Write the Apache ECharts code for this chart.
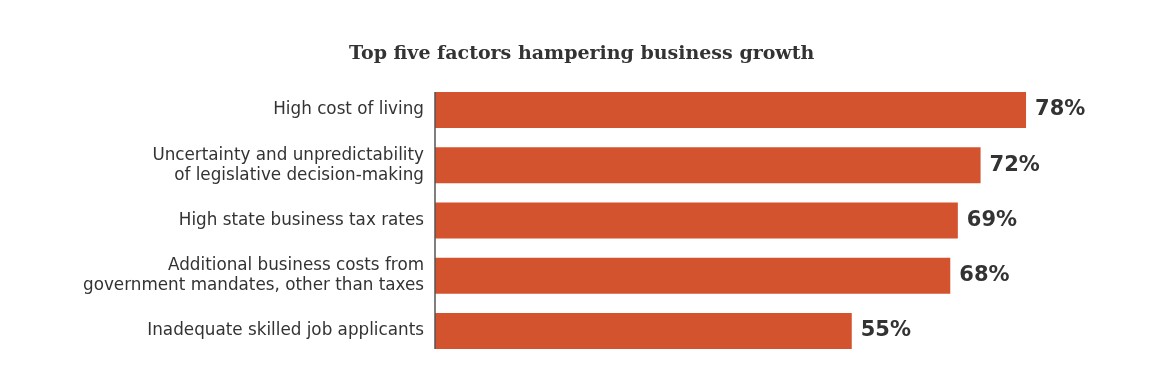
<!DOCTYPE html>
<html><head><meta charset="utf-8">
<script src="https://cdn.jsdelivr.net/npm/echarts@6/dist/echarts.min.js"></script>
<style>html,body{margin:0;padding:0;background:#fff}#c{width:1170px;height:381px}</style>
</head><body><div id="c"></div>
<script>
const categories = [
  "High cost of living",
  "Uncertainty and unpredictability\nof legislative decision-making",
  "High state business tax rates",
  "Additional business costs from\ngovernment mandates, other than taxes",
  "Inadequate skilled job applicants"
];
const values = [78, 72, 69, 68, 55];
const titleText = "Top five factors hampering business growth";

const BAR_W = 36;
const chart = echarts.init(document.getElementById('c'));
chart.setOption({
  animation: false,
  backgroundColor: '#fff',
  title: {
    text: titleText, left: 344, top: 40,
    textStyle: { fontFamily: 'DejaVu Serif', fontWeight: 'bold', fontSize: 19, color: '#333' }
  },
  grid: { left: 435, top: 82.4, width: 606.2, height: 276.25 },
  xAxis: { type: 'value', min: 0, max: 80, show: false },
  yAxis: {
    type: 'category', data: categories, inverse: true,
    axisLine: { show: false }, axisTick: { show: false },
    axisLabel: { margin: 11, fontFamily: 'DejaVu Sans', fontSize: 16.8, color: '#333', lineHeight: 20, align: 'right' }
  },
  series: [{
    type: 'bar', data: values, barWidth: BAR_W,
    itemStyle: { color: '#D4532F' },
    label: {
      show: true, position: 'right', distance: 9, formatter: '{c}%',
      fontFamily: 'DejaVu Sans', fontWeight: 'bold', fontSize: 21, color: '#333'
    }
  }, {
    type: 'custom', data: [[0, 0]], z: 5,
    renderItem: function (params, api) {
      const p1 = api.coord([0, 0]);
      const p2 = api.coord([0, categories.length - 1]);
      return { type: 'line', shape: { x1: p1[0], y1: p1[1] - BAR_W / 2, x2: p2[0], y2: p2[1] + BAR_W / 2 },
        style: { stroke: '#555', lineWidth: 1.5 } };
    }
  }]
});
</script></body></html>
